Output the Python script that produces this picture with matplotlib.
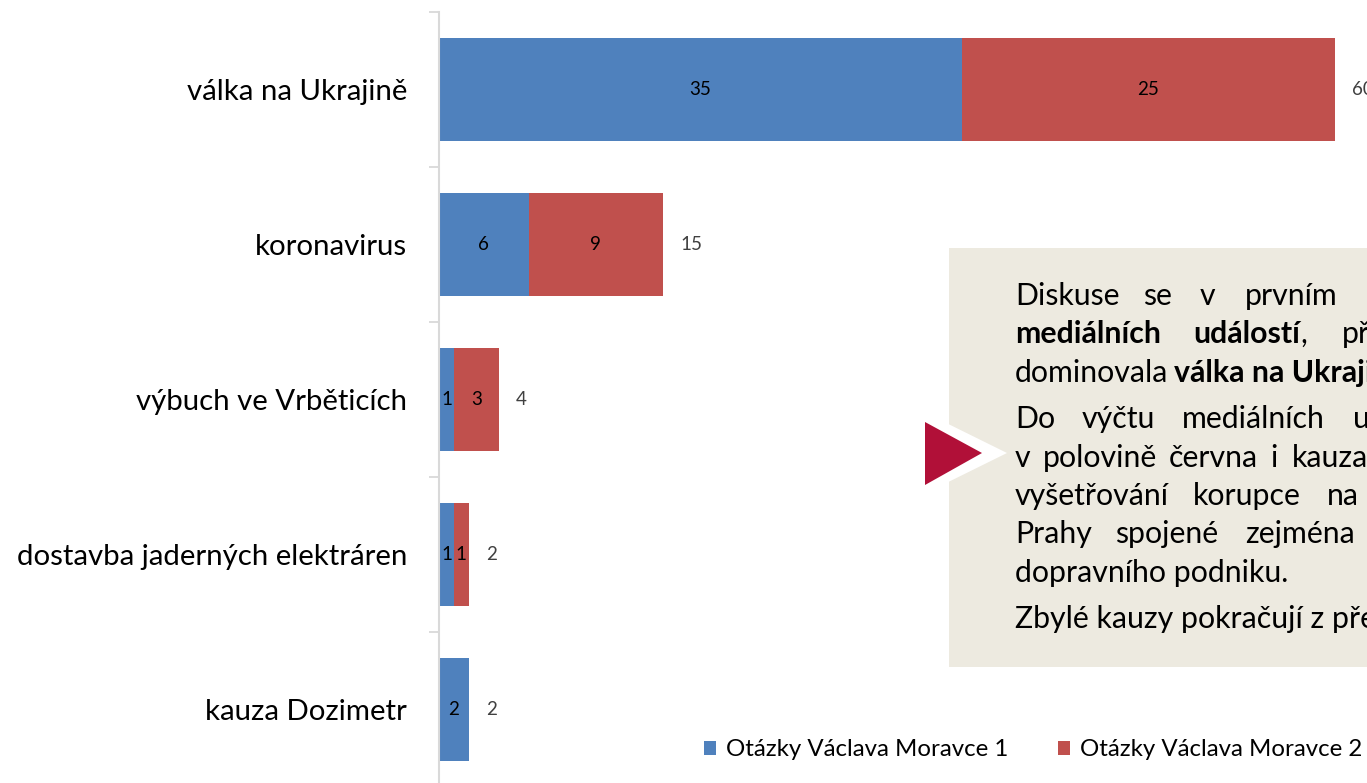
import numpy as np
import matplotlib
matplotlib.use('Agg')
import matplotlib.pyplot as plt
from matplotlib.patches import Rectangle, Polygon, Patch

# data (top to bottom)
categories = ['válka na Ukrajině', 'koronavirus', 'výbuch ve Vrběticích',
              'dostavba jaderných elektráren', 'kauza Dozimetr']
series_names = ['Otázky Václava Moravce 1', 'Otázky Václava Moravce 2']
omv1 = [35, 6, 1, 1, 2]
omv2 = [25, 9, 3, 1, 0]

colors = ['#4F81BD', '#C0504D']
FONT = 'Lato'
W, H = 1367, 783

plt.rcParams['font.family'] = [FONT, 'DejaVu Sans']

fig = plt.figure(figsize=(W / 100, H / 100), dpi=100)


def fx(px):
    return px / W


def fy(py):
    return 1 - py / H


# axes: left spine at x=439, ~14.93 px per unit, 155 px per category
px_unit = 896 / 60
cat_px = 155
ax = fig.add_axes([fx(439), 0, 1 - fx(439), fy(12)])
ax.set_xlim(0, (W - 439) / px_unit)
ax.set_ylim(-0.5 + (H - 12) / cat_px, -0.5)

y = np.arange(len(categories))
v1 = np.array(omv1)
v2 = np.array(omv2)
totals = v1 + v2

b1 = ax.barh(y, v1, height=0.66, color=colors[0], label=series_names[0])
b2 = ax.barh(y, v2, left=v1, height=0.66, color=colors[1],
             label=series_names[1])

for rects, vals in ((b1, v1), (b2, v2)):
    for r, v in zip(rects, vals):
        if v == 0:
            continue
        ax.text(r.get_x() + r.get_width() / 2, r.get_y() + r.get_height() / 2,
                str(v), ha='center', va='center', fontsize=13.5,
                color='black')

for yi, t in zip(y, totals):
    ax.annotate(str(t), (t, yi), xytext=(12.3, 0), textcoords='offset points',
                ha='left', va='center', fontsize=13.5, color='#404040',
                annotation_clip=False)

# spines / ticks
for s in ('top', 'right', 'bottom'):
    ax.spines[s].set_visible(False)
ax.spines['left'].set_color('#d9d9d9')
ax.spines['left'].set_linewidth(1.5)
ax.set_xticks([])
ax.set_yticks(y)
ax.set_yticklabels(categories, fontsize=21.2)
ax.tick_params(axis='y', which='major', length=0, pad=23)
ax.set_yticks(np.arange(len(categories)) - 0.5, minor=True)
ax.tick_params(axis='y', which='minor', length=7.5, width=1.3,
               color='#d9d9d9')

# legend
handles = [Patch(facecolor=c) for c in colors]
fig.legend(handles, series_names, loc='center left',
           bbox_to_anchor=(fx(704), fy(750)), ncol=2, frameon=False,
           fontsize=17.3, handlelength=0.52, handleheight=0.52,
           handletextpad=0.4, columnspacing=2.05, borderpad=0,
           borderaxespad=0)

# commentary box with arrow
fig.patches.append(Rectangle((fx(949), fy(667)), fx(W - 949 + 10),
                             fy(248) - fy(667), transform=fig.transFigure,
                             facecolor='#EDEAE0', edgecolor='none',
                             zorder=5))
fig.patches.append(Polygon([(fx(920), fy(410)), (fx(1007), fy(453)),
                            (fx(920), fy(496))], closed=True,
                           transform=fig.transFigure, facecolor='white',
                           edgecolor='none', zorder=6))
fig.patches.append(Polygon([(fx(925), fy(422)), (fx(982), fy(453)),
                            (fx(925), fy(485))], closed=True,
                           transform=fig.transFigure, facecolor='#B11038',
                           edgecolor='none', zorder=7))

# justified paragraph, cut by the right edge: (baseline, [(x, text, bold)])
# x=None means: continue right after the previous piece
box_lines = [
    (305, [(1015, 'Diskuse', False), (1143, 'se', False), (1200, 'v', False),
           (1245, 'prvním', False)]),
    (343, [(1015, 'mediálních', True), (1193, 'událostí', True),
           (None, ',', False), (1342, 'přičemž', False)]),
    (382, [(1015, 'dominovala ', False), (None, 'válka na Ukrajině.', True)]),
    (428, [(1015, 'Do', False), (1082, 'výčtu', False),
           (1182, 'mediálních', False), (1353, 'událostí', False)]),
    (467, [(1015, 'v', False), (1043, 'polovině', False),
           (1169, 'června', False), (1270, 'i', False),
           (1292, 'kauza', False)]),
    (505, [(1015, 'vyšetřování', False), (1193, 'korupce', False),
           (1327, 'na', False)]),
    (543, [(1015, 'Prahy', False), (1115, 'spojené', False),
           (1245, 'zejména', False)]),
    (582, [(1015, 'dopravního podniku.', False)]),
    (628, [(1015, 'Zbylé kauzy pokračují z předchozího', False)]),
]

renderer = fig.canvas.get_renderer()
space_px = 6
for base, words in box_lines:
    last_end = None
    for x, txt, bold in words:
        if x is None:
            xf = last_end
        else:
            xf = fx(x)
        t = fig.text(xf, fy(base), txt.strip(), fontsize=21.8,
                     va='baseline', ha='left', color='black',
                     fontweight='bold' if bold else 'normal', zorder=8)
        bb = t.get_window_extent(renderer)
        last_end = bb.x1 / W
        if txt.endswith(' '):
            last_end += fx(space_px)

fig.savefig('out.png', dpi=100)
